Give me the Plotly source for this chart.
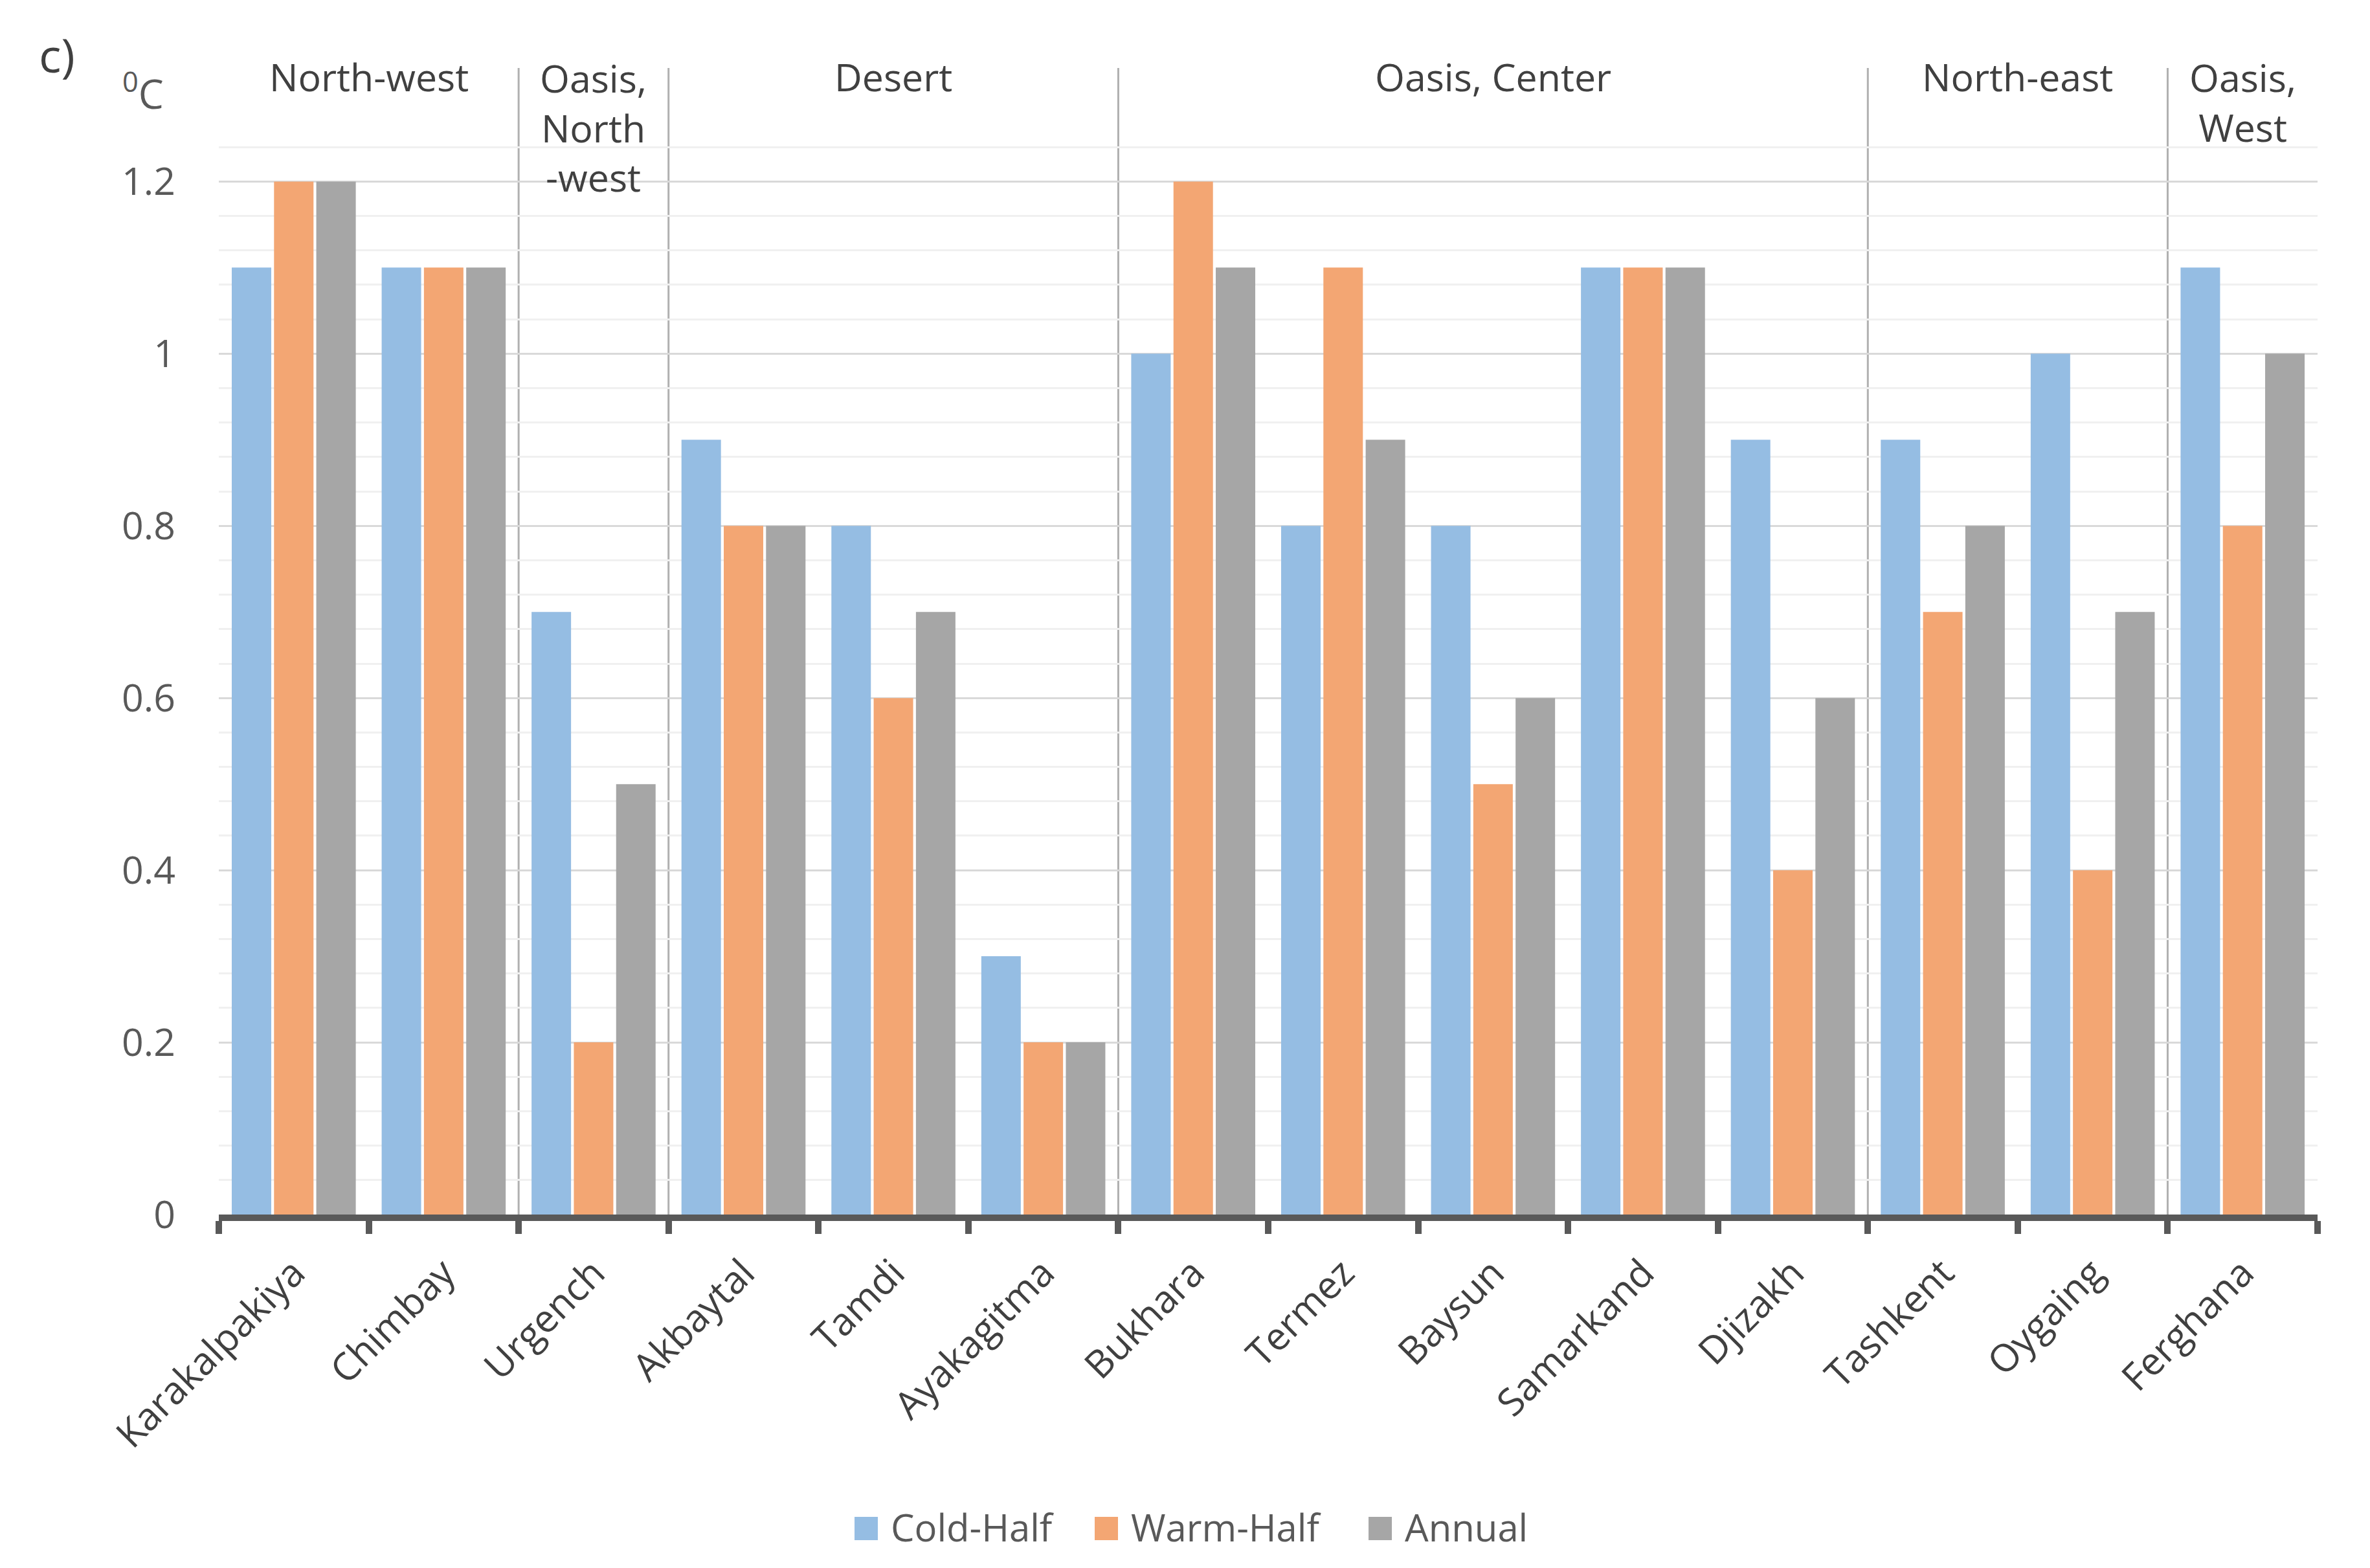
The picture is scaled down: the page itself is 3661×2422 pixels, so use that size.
import plotly.graph_objects as go

# ---------------- data ----------------
stations = ["Karakalpakiya", "Chimbay", "Urgench", "Akbaytal", "Tamdi", "Ayakagitma",
            "Bukhara", "Termez", "Baysun", "Samarkand", "Djizakh", "Tashkent",
            "Oygaing", "Ferghana"]
cold_half = [1.1, 1.1, 0.7, 0.9, 0.8, 0.3, 1.0, 0.8, 0.8, 1.1, 0.9, 0.9, 1.0, 1.1]
warm_half = [1.2, 1.1, 0.2, 0.8, 0.6, 0.2, 1.2, 1.1, 0.5, 1.1, 0.4, 0.7, 0.4, 0.8]
annual    = [1.2, 1.1, 0.5, 0.8, 0.7, 0.2, 1.1, 0.9, 0.6, 1.1, 0.6, 0.8, 0.7, 1.0]
series_names = ["Cold-Half", "Warm-Half", "Annual"]
region_names = ["North-west", "Oasis,<br>North<br>-west", "Desert", "Oasis, Center",
                "North-east", "Oasis,<br>West"]
region_counts = [2, 1, 3, 5, 2, 1]
y_tickvals = [0, 0.2, 0.4, 0.6, 0.8, 1.0, 1.2]
y_ticktext = ["0", "0.2", "0.4", "0.6", "0.8", "1", "1.2"]

# ---------------- style ----------------
colors = ["#95BDE3", "#F3A673", "#A6A6A6"]
FONT = "Open Sans"
TXT_DARK = "#404040"
TXT_GREY = "#595959"

WIDTH, HEIGHT = 3661, 2422
L, R, T, B = 330, 89, 166, 554
PW = WIDTH - L - R
PH = HEIGHT - T - B


def paper_x(px):
    return (px - L) / PW


def paper_y(py):
    return (HEIGHT - B - py) / PH


fig = go.Figure()
for name, vals, col in zip(series_names, [cold_half, warm_half, annual], colors):
    fig.add_trace(go.Bar(x=stations, y=vals, name=name, marker_color=col,
                         marker_line_width=0, showlegend=False))

# region separators and labels
shapes = []
annotations = []
start = 0
for i, (rname, cnt) in enumerate(zip(region_names, region_counts)):
    center = start + (cnt - 1) / 2
    nlines = rname.count("<br>") + 1
    first_center_px = 110
    block_center_px = first_center_px + (nlines - 1) * 79 / 2
    annotations.append(dict(x=center, xref="x", y=paper_y(block_center_px), yref="paper",
                            text=rname, showarrow=False, xanchor="center", yanchor="middle",
                            font=dict(family=FONT, size=59, color=TXT_DARK)))
    start += cnt
    if i < len(region_names) - 1:
        shapes.append(dict(type="line", xref="x", yref="paper", x0=start - 0.5, x1=start - 0.5,
                           y0=0, y1=paper_y(97), line=dict(color="#B0B0B0", width=3),
                           layer="below"))

# panel label and unit
annotations.append(dict(x=paper_x(80), y=paper_y(76), xref="paper", yref="paper", text="c)",
                        showarrow=False, xanchor="center", yanchor="middle",
                        font=dict(family=FONT, size=72, color=TXT_DARK)))
annotations.append(dict(x=paper_x(213), y=paper_y(133), xref="paper", yref="paper",
                        text="<sup>0</sup>C", showarrow=False, xanchor="center", yanchor="middle",
                        font=dict(family=FONT, size=62, color=TXT_GREY)))

# manual legend (large square swatches like the original)
legend_x = [1312, 1683, 2106]
sw = 36
leg_cy = 2350
for name, col, lx in zip(series_names, colors, legend_x):
    shapes.append(dict(type="rect", xref="paper", yref="paper",
                       x0=paper_x(lx), x1=paper_x(lx + sw),
                       y0=paper_y(leg_cy + 3 + sw / 2), y1=paper_y(leg_cy + 3 - sw / 2),
                       fillcolor=col, line=dict(width=0)))
    annotations.append(dict(x=paper_x(lx + sw + 18), y=paper_y(leg_cy), xref="paper", yref="paper",
                            text=name, showarrow=False, xanchor="left", yanchor="middle",
                            font=dict(family=FONT, size=58, color=TXT_GREY)))

fig.update_layout(
    width=WIDTH, height=HEIGHT,
    margin=dict(l=L, r=R, t=T, b=B, pad=0),
    paper_bgcolor="white", plot_bgcolor="white",
    barmode="group", bargap=0.154, bargroupgap=0.066,
    showlegend=False,
    shapes=shapes, annotations=annotations,
    font=dict(family=FONT, color=TXT_GREY),
)
fig.update_xaxes(
    type="category", range=[-0.5, len(stations) - 0.5],
    showline=True, linecolor="#595959", linewidth=10,
    ticks="outside", tickson="boundaries", ticklen=20, tickwidth=10, tickcolor="#595959",
    tickangle=-45, ticklabelstandoff=22,
    tickfont=dict(family=FONT, size=59, color=TXT_DARK),
    showgrid=False, zeroline=False,
)
fig.update_yaxes(
    range=[0, 1.28], tickvals=y_tickvals, ticktext=y_ticktext,
    showgrid=True, gridcolor="#D9D9D9", gridwidth=3,
    minor=dict(dtick=0.04, tick0=0, showgrid=True, gridcolor="#F0F0F0", gridwidth=3),
    showline=False, zeroline=False, ticks="",
    ticklabelstandoff=66,
    tickfont=dict(family=FONT, size=59, color=TXT_GREY),
)

fig.write_html("out.html")
